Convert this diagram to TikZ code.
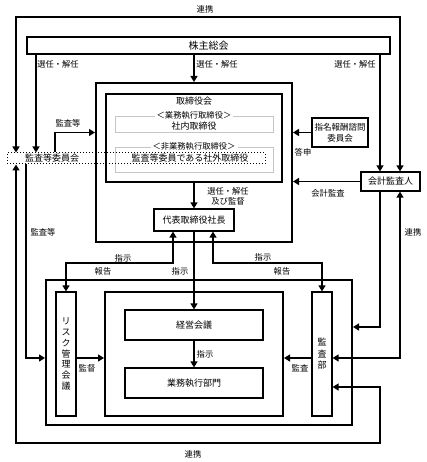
\documentclass[tikz,border=0pt]{standalone}
\usepackage{fontspec}
\setmainfont{Noto Sans CJK JP}
\usetikzlibrary{arrows.meta}

\begin{document}
\begin{tikzpicture}[x=1pt,y=-1pt,
    % --- styles ---
    frame/.style = {draw, line width=#1, inner sep=0pt, font=\fontsize{9}{11}\selectfont}, % boxes
    group/.style = {draw=gray!45, line width=0.8pt, inner sep=0pt},    % grey group frames
    dotbox/.style = {draw, dotted, line width=1pt, inner sep=0pt},     % dotted committee frame
    link/.style = {line width=1.3pt},                                   % plain line
    arr/.style = {link, -{Triangle[length=6pt,width=7pt]}},             % one-way arrow
    arrs/.style = {link, {Triangle[length=6pt,width=7pt]}-{Triangle[length=6pt,width=7pt]}}, % two-way arrow
    lbl/.style = {inner sep=0pt, font=\fontsize{8.3}{10}\selectfont}    % arrow labels
    ]

    \useasboundingbox (0,0) rectangle (427,462);

    % --- lanes and rows for the routed lines ---
    \coordinate (laneL1) at (16,0);
    \coordinate (laneL2) at (26,0);
    \coordinate (laneL3) at (36,0);
    \coordinate (laneL4) at (55,0);
    \coordinate (laneR1) at (380,0);
    \coordinate (laneR2) at (400,0);
    \coordinate (rowT) at (0,17);
    \coordinate (rowA) at (0,327);
    \coordinate (rowM) at (0,358);
    \coordinate (rowC) at (0,387);
    \coordinate (rowB) at (0,443);
    \coordinate (ctlL) at (173,263);
    \coordinate (ctlR) at (213,263);

    % --- shareholders ---
    \node[frame=2pt, minimum width=363pt, minimum height=17pt, font=\fontsize{10}{12}\selectfont] (sh) at (208.5,45.5) {株主総会};

    % --- board ---
    \node[frame=2pt, minimum width=196pt, minimum height=159pt] (gov) at (194,162.5) {};
    \node[frame=1.2pt, minimum width=176pt, minimum height=88pt] (board) at (194,138) {};
    \node[lbl, font=\fontsize{9}{11}\selectfont] (boardT) at (194,101) {取締役会};
    \node[group, minimum width=158pt, minimum height=16pt] (exec) at (194,124) {};
    \node[lbl, fill=white, inner xsep=2pt] (execT) at (194,115) {＜業務執行取締役＞};
    \node[lbl, font=\fontsize{9}{11}\selectfont] (execN) at (194,126) {社内取締役};
    \node[group, minimum width=158pt, minimum height=25pt] (nonex) at (194,159.5) {};
    \node[lbl, fill=white, inner xsep=2pt] (nonexT) at (194,146) {＜非業務執行取締役＞};
    \node[dotbox, minimum width=258pt, minimum height=11pt] (audcom) at (136,158.5) {};
    \node[lbl, font=\fontsize{9}{11}\selectfont] (audcomT) at (52,158.5) {監査等委員会};
    \node[lbl, font=\fontsize{9}{11}\selectfont] (outside) at (190,158.5) {監査等委員である社外取締役};

    \node[frame=1.2pt, minimum width=56pt, minimum height=29pt, align=center,
          font=\fontsize{8.5}{11}\selectfont] (nom) at (340,132.5) {指名報酬諮問\\委員会};
    \node[frame=1.2pt, minimum width=59pt, minimum height=19pt] (acc) at (390.5,181.5) {会計監査人};
    \node[frame=1.2pt, minimum width=80pt, minimum height=22pt] (pres) at (194,220) {代表取締役社長};

    % --- execution side ---
    \node[frame=2pt, minimum width=306pt, minimum height=145pt] (ops) at (199,352.5) {};
    \node[frame=1.2pt, minimum width=20pt, minimum height=124pt, align=center,
          font=\fontsize{9}{10.8}\selectfont] (risk) at (66,354) {リ\\ス\\ク\\管\\理\\会\\議};
    \node[frame=2pt, minimum width=178pt, minimum height=124pt] (exe) at (194,354) {};
    \node[frame=1.2pt, minimum width=138pt, minimum height=30pt] (mgmt) at (194,325) {経営会議};
    \node[frame=1.2pt, minimum width=138pt, minimum height=30pt] (dept) at (194,383) {業務執行部門};
    \node[frame=1.2pt, minimum width=20pt, minimum height=124pt, align=center,
          font=\fontsize{9}{11.5}\selectfont] (audit) at (322,354) {監\\査\\部};

    % --- appointments ---
    \draw[arr] (sh.south -| laneL3) -- (audcom.north -| laneL3);
    \draw[arr] (sh.south -| gov.north) -- (gov.north);
    \draw[arr] (sh.south -| laneR1) -- (acc.north -| laneR1);
    \node[lbl] at (58,64) {選任・解任};
    \node[lbl] at (217,64) {選任・解任};
    \node[lbl] at (355,64) {選任・解任};

    % --- cooperation, top and bottom ---
    \draw[arrs] (audcom.north -| laneL1) -- (laneL1 |- rowT) -- (laneR2 |- rowT) -- (acc.north -| laneR2);
    \node[lbl] at (205,9) {連携};
    \draw[arrs] (audcom.south -| laneL1) -- (laneL1 |- rowB) -| (laneR1 |- rowC) -- (audit.east |- rowC);
    \node[lbl] at (193,454) {連携};
    \draw[arrs] (acc.south -| laneR2) |- (audit.east |- rowM);
    \node[lbl] at (413,232) {連携};

    % --- audits and reports to the board ---
    \draw[arr] (audcom.north -| laneL4) |- (gov.west |- nom.west);
    \node[lbl] at (68,123) {監査等};
    \draw[arr] (nom.west) -- (nom.west -| gov.east);
    \node[lbl] at (303,152) {答申};
    \draw[arr] (acc.west) -- (acc.west -| gov.east);
    \node[lbl] at (328,193) {会計監査};
    \draw[arr] (audcom.south -| laneL2) |- (ops.west |- rowM);
    \node[lbl] at (43,232) {監査等};
    \draw[arr] (acc.south -| laneR1) |- (ops.east |- rowA);

    % --- president ---
    \draw[arr] (board.south) -- (pres.north);
    \node[lbl, align=center] at (228,196) {選任・解任\\及び監督};
    \draw[arr] (pres.south) -- (mgmt.north);
    \node[lbl] at (180,271) {指示};
    \draw[arrs] (pres.south -| ctlL) -- (ctlL) -| (risk.north);
    \node[lbl] at (123,258) {指示};
    \node[lbl] at (103,271) {報告};
    \draw[arrs] (pres.south -| ctlR) -- (ctlR) -| (audit.north);
    \node[lbl] at (263,257) {指示};
    \node[lbl] at (282,271) {報告};

    % --- inside the execution side ---
    \draw[arr] (mgmt.south) -- (dept.north);
    \node[lbl] at (205,354) {指示};
    \draw[arr] (risk.east |- rowM) -- (exe.west |- rowM);
    \node[lbl] at (87,368) {監督};
    \draw[arr] (audit.west |- rowM) -- (exe.east |- rowM);
    \node[lbl] at (300,368) {監査};
\end{tikzpicture}
\end{document}
